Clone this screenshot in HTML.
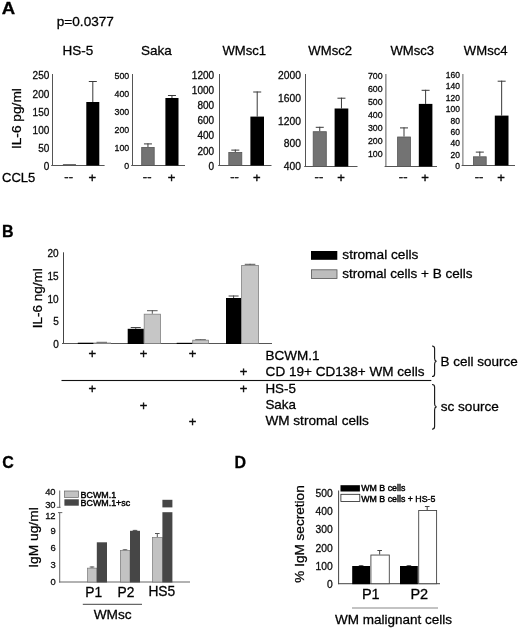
<!DOCTYPE html>
<html><head><meta charset="utf-8"><title>Figure</title>
<style>
html,body{margin:0;padding:0;background:#fff;}
svg{display:block;font-family:"Liberation Sans", Arial, sans-serif;will-change:transform;}
text{stroke:#000;stroke-width:0.28px;}
text.sg{stroke-width:0.4px;}
text.lg{stroke-width:0.42px;}
</style></head>
<body>
<svg width="520" height="630" viewBox="0 0 520 630">
<rect width="520" height="630" fill="#fff"/>
<text transform="translate(1.8 13.7) scale(1.16 1.03)" font-size="16" font-weight="bold" fill="#000">A</text>
<text x="56.8" y="26.2" font-size="13.6" text-anchor="start" font-weight="normal" fill="#000">p=0.0377</text>
<text x="2" y="181.5" font-size="13" text-anchor="start" font-weight="normal" fill="#000">CCL5</text>
<text transform="translate(20.8 118.6) rotate(-90) scale(1 0.95)" font-size="13.7" text-anchor="middle" font-weight="normal" fill="#000">IL-6 pg/ml</text>
<text x="78" y="54.6" font-size="13.5" text-anchor="middle" font-weight="normal" fill="#000">HS-5</text>
<rect x="52" y="74" width="1" height="92" fill="#555"/>
<rect x="51.2" y="165" width="53.4" height="1" fill="#555"/>
<text x="49.3" y="169.9" font-size="10" text-anchor="end" font-weight="normal" fill="#111">0</text>
<text x="49.3" y="151.8" font-size="10" text-anchor="end" font-weight="normal" fill="#111">50</text>
<text x="49.3" y="133.7" font-size="10" text-anchor="end" font-weight="normal" fill="#111">100</text>
<text x="49.3" y="115.6" font-size="10" text-anchor="end" font-weight="normal" fill="#111">150</text>
<text x="49.3" y="97.5" font-size="10" text-anchor="end" font-weight="normal" fill="#111">200</text>
<text x="49.3" y="79.4" font-size="10" text-anchor="end" font-weight="normal" fill="#111">250</text>
<rect x="63.3" y="164.6" width="12.3" height="0.9" fill="#737373" stroke="#555" stroke-width="0.8"/>
<rect x="92.3" y="81" width="1" height="21" fill="#3a3a3a"/>
<rect x="88.8" y="81" width="8" height="1" fill="#3a3a3a"/>
<rect x="86.3" y="102" width="13" height="63.5" fill="#000"/>
<text class="sg" x="68.65" y="181.1" font-size="13" text-anchor="middle" font-weight="normal" fill="#222">--</text>
<text class="sg" x="92.3" y="182.4" font-size="13" text-anchor="middle" font-weight="normal" fill="#111">+</text>
<text x="156.5" y="54.6" font-size="13.5" text-anchor="middle" font-weight="normal" fill="#000">Saka</text>
<rect x="132" y="74" width="1" height="92" fill="#555"/>
<rect x="131.2" y="165" width="53.8" height="1" fill="#555"/>
<text x="129.2" y="169.27" font-size="8.8" text-anchor="end" font-weight="normal" fill="#111">0</text>
<text x="129.2" y="151.13" font-size="8.8" text-anchor="end" font-weight="normal" fill="#111">100</text>
<text x="129.2" y="132.99" font-size="8.8" text-anchor="end" font-weight="normal" fill="#111">200</text>
<text x="129.2" y="114.85" font-size="8.8" text-anchor="end" font-weight="normal" fill="#111">300</text>
<text x="129.2" y="96.71" font-size="8.8" text-anchor="end" font-weight="normal" fill="#111">400</text>
<text x="129.2" y="78.57" font-size="8.8" text-anchor="end" font-weight="normal" fill="#111">500</text>
<rect x="147.45" y="143.4" width="1" height="3.6" fill="#3a3a3a"/>
<rect x="143.95" y="143.4" width="8" height="1" fill="#3a3a3a"/>
<rect x="141.7" y="147.4" width="12.5" height="18.1" fill="#737373" stroke="#555" stroke-width="0.8"/>
<rect x="171.45" y="95" width="1" height="3" fill="#3a3a3a"/>
<rect x="167.95" y="95" width="8" height="1" fill="#3a3a3a"/>
<rect x="165.4" y="98" width="13.1" height="67.5" fill="#000"/>
<text class="sg" x="147.15" y="181.1" font-size="13" text-anchor="middle" font-weight="normal" fill="#222">--</text>
<text class="sg" x="171.45" y="182.4" font-size="13" text-anchor="middle" font-weight="normal" fill="#111">+</text>
<text x="244.3" y="54.6" font-size="13.1" text-anchor="middle" font-weight="normal" fill="#000">WMsc1</text>
<rect x="219" y="74" width="1" height="92" fill="#555"/>
<rect x="218.2" y="165" width="53.3" height="1" fill="#555"/>
<text x="214.1" y="169.7" font-size="10" text-anchor="end" font-weight="normal" fill="#111">0</text>
<text x="214.1" y="154.58" font-size="10" text-anchor="end" font-weight="normal" fill="#111">200</text>
<text x="214.1" y="139.47" font-size="10" text-anchor="end" font-weight="normal" fill="#111">400</text>
<text x="214.1" y="124.35" font-size="10" text-anchor="end" font-weight="normal" fill="#111">600</text>
<text x="214.1" y="109.23" font-size="10" text-anchor="end" font-weight="normal" fill="#111">800</text>
<text x="214.1" y="94.12" font-size="10" text-anchor="end" font-weight="normal" fill="#111">1000</text>
<text x="214.1" y="79" font-size="10" text-anchor="end" font-weight="normal" fill="#111">1200</text>
<rect x="234.8" y="149.6" width="1" height="2.4" fill="#3a3a3a"/>
<rect x="231.3" y="149.6" width="8" height="1" fill="#3a3a3a"/>
<rect x="228.8" y="152.4" width="13" height="13.1" fill="#737373" stroke="#555" stroke-width="0.8"/>
<rect x="256.7" y="91.5" width="1" height="25.1" fill="#3a3a3a"/>
<rect x="253.2" y="91.5" width="8" height="1" fill="#3a3a3a"/>
<rect x="250.4" y="116.6" width="13.6" height="48.9" fill="#000"/>
<text class="sg" x="234.5" y="181.1" font-size="13" text-anchor="middle" font-weight="normal" fill="#222">--</text>
<text class="sg" x="256.7" y="182.4" font-size="13" text-anchor="middle" font-weight="normal" fill="#111">+</text>
<text x="330.2" y="54.6" font-size="13.1" text-anchor="middle" font-weight="normal" fill="#000">WMsc2</text>
<rect x="305" y="74" width="1" height="93" fill="#555"/>
<rect x="304.2" y="166" width="53.3" height="1" fill="#555"/>
<text x="300.9" y="170.01" font-size="10.3" text-anchor="end" font-weight="normal" fill="#111">400</text>
<text x="300.9" y="147.28" font-size="10.3" text-anchor="end" font-weight="normal" fill="#111">800</text>
<text x="300.9" y="124.56" font-size="10.3" text-anchor="end" font-weight="normal" fill="#111">1200</text>
<text x="300.9" y="101.83" font-size="10.3" text-anchor="end" font-weight="normal" fill="#111">1600</text>
<text x="300.9" y="79.11" font-size="10.3" text-anchor="end" font-weight="normal" fill="#111">2000</text>
<rect x="319.25" y="126.8" width="1" height="4.5" fill="#3a3a3a"/>
<rect x="315.75" y="126.8" width="8" height="1" fill="#3a3a3a"/>
<rect x="313.2" y="131.7" width="13.1" height="34.8" fill="#737373" stroke="#555" stroke-width="0.8"/>
<rect x="340.95" y="97.7" width="1" height="10.8" fill="#3a3a3a"/>
<rect x="337.45" y="97.7" width="8" height="1" fill="#3a3a3a"/>
<rect x="334.6" y="108.5" width="13.7" height="58" fill="#000"/>
<text class="sg" x="318.95" y="181.1" font-size="13" text-anchor="middle" font-weight="normal" fill="#222">--</text>
<text class="sg" x="340.95" y="182.4" font-size="13" text-anchor="middle" font-weight="normal" fill="#111">+</text>
<text x="412.3" y="54.6" font-size="13.1" text-anchor="middle" font-weight="normal" fill="#000">WMsc3</text>
<rect x="385.4" y="74" width="1" height="93" fill="#5a5a5a"/>
<rect x="384.6" y="166" width="52.4" height="1" fill="#555"/>
<text x="382.6" y="157.1" font-size="8.8" text-anchor="end" font-weight="normal" fill="#111">100</text>
<text x="382.6" y="144.03" font-size="8.8" text-anchor="end" font-weight="normal" fill="#111">200</text>
<text x="382.6" y="130.95" font-size="8.8" text-anchor="end" font-weight="normal" fill="#111">300</text>
<text x="382.6" y="117.88" font-size="8.8" text-anchor="end" font-weight="normal" fill="#111">400</text>
<text x="382.6" y="104.81" font-size="8.8" text-anchor="end" font-weight="normal" fill="#111">500</text>
<text x="382.6" y="91.74" font-size="8.8" text-anchor="end" font-weight="normal" fill="#111">600</text>
<text x="382.6" y="78.67" font-size="8.8" text-anchor="end" font-weight="normal" fill="#111">700</text>
<rect x="403.5" y="127.4" width="1" height="9.2" fill="#3a3a3a"/>
<rect x="400" y="127.4" width="8" height="1" fill="#3a3a3a"/>
<rect x="397.6" y="137" width="12.8" height="29.5" fill="#737373" stroke="#555" stroke-width="0.8"/>
<rect x="425.1" y="89.8" width="1" height="14.1" fill="#3a3a3a"/>
<rect x="421.6" y="89.8" width="8" height="1" fill="#3a3a3a"/>
<rect x="418.8" y="103.9" width="13.6" height="62.6" fill="#000"/>
<text class="sg" x="403.2" y="181.1" font-size="13" text-anchor="middle" font-weight="normal" fill="#222">--</text>
<text class="sg" x="425.1" y="182.4" font-size="13" text-anchor="middle" font-weight="normal" fill="#111">+</text>
<text x="485.7" y="54.6" font-size="13.1" text-anchor="middle" font-weight="normal" fill="#000">WMsc4</text>
<rect x="462.4" y="74" width="1" height="92" fill="#666"/>
<rect x="461.6" y="165" width="53.4" height="1" fill="#555"/>
<text x="459.9" y="169.16" font-size="8.5" text-anchor="end" font-weight="normal" fill="#111">0</text>
<text x="459.9" y="157.77" font-size="8.5" text-anchor="end" font-weight="normal" fill="#111">20</text>
<text x="459.9" y="146.38" font-size="8.5" text-anchor="end" font-weight="normal" fill="#111">40</text>
<text x="459.9" y="135" font-size="8.5" text-anchor="end" font-weight="normal" fill="#111">60</text>
<text x="459.9" y="123.61" font-size="8.5" text-anchor="end" font-weight="normal" fill="#111">80</text>
<text x="459.9" y="112.22" font-size="8.5" text-anchor="end" font-weight="normal" fill="#111">100</text>
<text x="459.9" y="100.84" font-size="8.5" text-anchor="end" font-weight="normal" fill="#111">120</text>
<text x="459.9" y="89.45" font-size="8.5" text-anchor="end" font-weight="normal" fill="#111">140</text>
<text x="459.9" y="78.06" font-size="8.5" text-anchor="end" font-weight="normal" fill="#111">160</text>
<rect x="479.3" y="151.6" width="1" height="4.8" fill="#3a3a3a"/>
<rect x="475.8" y="151.6" width="8" height="1" fill="#3a3a3a"/>
<rect x="473.4" y="156.8" width="12.8" height="8.7" fill="#737373" stroke="#555" stroke-width="0.8"/>
<rect x="501.15" y="80.7" width="1" height="34.9" fill="#3a3a3a"/>
<rect x="497.65" y="80.7" width="8" height="1" fill="#3a3a3a"/>
<rect x="494.8" y="115.6" width="13.7" height="49.9" fill="#000"/>
<text class="sg" x="479" y="181.1" font-size="13" text-anchor="middle" font-weight="normal" fill="#222">--</text>
<text class="sg" x="501.15" y="182.4" font-size="13" text-anchor="middle" font-weight="normal" fill="#111">+</text>
<text x="2" y="236.7" font-size="16" text-anchor="start" font-weight="bold" fill="#000">B</text>
<text transform="translate(42.3 298.3) rotate(-90)" font-size="13.5" text-anchor="middle" font-weight="normal" fill="#000">IL-6 ng/ml</text>
<rect x="63" y="252.3" width="1" height="91.7" fill="#444"/>
<rect x="62" y="343" width="210" height="1" fill="#555"/>
<text x="58.7" y="347.8" font-size="10" text-anchor="end" font-weight="normal" fill="#111">0</text>
<text x="58.7" y="325.15" font-size="10" text-anchor="end" font-weight="normal" fill="#111">5</text>
<text x="58.7" y="302.5" font-size="10" text-anchor="end" font-weight="normal" fill="#111">10</text>
<text x="58.7" y="279.85" font-size="10" text-anchor="end" font-weight="normal" fill="#111">15</text>
<text x="58.7" y="257.2" font-size="10" text-anchor="end" font-weight="normal" fill="#111">20</text>
<rect x="77.8" y="342.7" width="15.7" height="1.3" fill="#000"/>
<rect x="93.9" y="343" width="16.7" height="0.5" fill="#c6c6c6" stroke="#808080" stroke-width="0.8"/>
<rect x="96.5" y="341.8" width="10.5" height="1" fill="#666"/>
<rect x="135.25" y="327" width="1" height="1.8" fill="#444"/>
<rect x="130.75" y="327" width="10" height="1" fill="#444"/>
<rect x="151.8" y="310.2" width="1" height="3.6" fill="#555"/>
<rect x="147" y="310.2" width="10.6" height="1" fill="#555"/>
<rect x="127.7" y="328.8" width="16.1" height="15.2" fill="#000"/>
<rect x="144.2" y="314.2" width="16.2" height="29.3" fill="#c6c6c6" stroke="#808080" stroke-width="0.8"/>
<rect x="200.05" y="339.2" width="1" height="0.6" fill="#555"/>
<rect x="195.25" y="339.2" width="10.6" height="1" fill="#555"/>
<rect x="176.7" y="342.8" width="15.6" height="1.2" fill="#000"/>
<rect x="192.7" y="340.2" width="15.7" height="3.3" fill="#c6c6c6" stroke="#808080" stroke-width="0.8"/>
<rect x="233.1" y="295.5" width="1" height="2.5" fill="#444"/>
<rect x="228.6" y="295.5" width="10" height="1" fill="#444"/>
<rect x="249.55" y="263.8" width="1" height="1.2" fill="#555"/>
<rect x="244.75" y="263.8" width="10.6" height="1" fill="#555"/>
<rect x="226" y="298" width="15.2" height="46" fill="#000"/>
<rect x="241.6" y="265.4" width="16.9" height="78.1" fill="#c6c6c6" stroke="#808080" stroke-width="0.8"/>
<text class="sg" x="92.3" y="358.2" font-size="13" text-anchor="middle" font-weight="normal" fill="#111">+</text>
<text class="sg" x="143.5" y="358.2" font-size="13" text-anchor="middle" font-weight="normal" fill="#111">+</text>
<text class="sg" x="192.5" y="358.2" font-size="13" text-anchor="middle" font-weight="normal" fill="#111">+</text>
<text class="sg" x="243.5" y="375.9" font-size="13" text-anchor="middle" font-weight="normal" fill="#111">+</text>
<rect x="61.5" y="379.95" width="369.8" height="1.1" fill="#111"/>
<text class="sg" x="92.3" y="392.9" font-size="13" text-anchor="middle" font-weight="normal" fill="#111">+</text>
<text class="sg" x="243.5" y="392.9" font-size="13" text-anchor="middle" font-weight="normal" fill="#111">+</text>
<text class="sg" x="143.5" y="409.8" font-size="13" text-anchor="middle" font-weight="normal" fill="#111">+</text>
<text class="sg" x="192.5" y="426.2" font-size="13" text-anchor="middle" font-weight="normal" fill="#111">+</text>
<rect x="311" y="251" width="26.3" height="8.8" fill="#000"/>
<rect x="311.4" y="269.8" width="25.6" height="8.8" fill="#bdbdbd" stroke="#555" stroke-width="0.8"/>
<text x="342.3" y="259.3" font-size="13.7" text-anchor="start" font-weight="normal" fill="#000">stromal cells</text>
<text x="342.3" y="278" font-size="13.5" text-anchor="start" font-weight="normal" fill="#000">stromal cells + B cells</text>
<text x="265.4" y="359.8" font-size="13.5" text-anchor="start" font-weight="normal" fill="#000">BCWM.1</text>
<text x="265.6" y="376.4" font-size="13.55" text-anchor="start" font-weight="normal" fill="#000">CD 19+ CD138+ WM cells</text>
<text x="265.4" y="393.2" font-size="13.4" text-anchor="start" font-weight="normal" fill="#000">HS-5</text>
<text x="265.4" y="409.2" font-size="13.4" text-anchor="start" font-weight="normal" fill="#000">Saka</text>
<text x="265.4" y="425.4" font-size="13.6" text-anchor="start" font-weight="normal" fill="#000">WM stromal cells</text>
<path d="M432 346 Q434.6 346 434.6 348.6 L434.6 358.45 Q434.6 360.85 436.5 361.25 Q434.6 361.65 434.6 364.05 L434.6 373.9 Q434.6 376.5 432 376.5" fill="none" stroke="#1a1a1a" stroke-width="1.15"/>
<path d="M432 384.5 Q434.6 384.5 434.6 387.1 L434.6 404.05 Q434.6 406.45 436.5 406.85 Q434.6 407.25 434.6 409.65 L434.6 426.6 Q434.6 429.2 432 429.2" fill="none" stroke="#1a1a1a" stroke-width="1.15"/>
<text x="440.4" y="366" font-size="13.5" text-anchor="start" font-weight="normal" fill="#000">B cell source</text>
<text x="440.7" y="411.3" font-size="13.6" text-anchor="start" font-weight="normal" fill="#000">sc source</text>
<text x="2.3" y="467.5" font-size="16" text-anchor="start" font-weight="bold" fill="#000">C</text>
<text transform="translate(38.3 537.5) rotate(-90) scale(1 0.9)" font-size="13.8" text-anchor="middle" font-weight="normal" fill="#000">IgM ug/ml</text>
<rect x="59.2" y="490.5" width="1" height="17.3" fill="#666"/>
<rect x="59.2" y="512.2" width="1" height="70.3" fill="#666"/>
<rect x="56.8" y="506.8" width="3.7" height="1" fill="#666"/>
<rect x="58" y="512.1" width="4.3" height="1" fill="#666"/>
<rect x="59" y="581.5" width="131" height="1" fill="#666"/>
<text x="55.6" y="494.8" font-size="9.4" text-anchor="end" font-weight="normal" fill="#111">40</text>
<text x="55.6" y="508.3" font-size="9.4" text-anchor="end" font-weight="normal" fill="#111">30</text>
<text x="55.6" y="518.5" font-size="9.4" text-anchor="end" font-weight="normal" fill="#111">12</text>
<text x="55.6" y="533.8" font-size="9.4" text-anchor="end" font-weight="normal" fill="#111">9</text>
<text x="55.6" y="550.5" font-size="9.4" text-anchor="end" font-weight="normal" fill="#111">6</text>
<text x="55.6" y="568.1" font-size="9.4" text-anchor="end" font-weight="normal" fill="#111">3</text>
<text x="55.6" y="584.6" font-size="9.4" text-anchor="end" font-weight="normal" fill="#111">0</text>
<rect x="64.6" y="491" width="14" height="6.5" fill="#c2c2c2" stroke="#666" stroke-width="0.7"/>
<rect x="64.4" y="499.3" width="14.4" height="6.4" fill="#464646"/>
<text class="lg" x="80.6" y="497.6" font-size="8.9" text-anchor="start" font-weight="normal" fill="#000">BCWM.1</text>
<text class="lg" x="80.6" y="505.7" font-size="8.9" text-anchor="start" font-weight="normal" fill="#000">BCWM.1+sc</text>
<rect x="91.5" y="566.5" width="1" height="1.3" fill="#555"/>
<rect x="89.7" y="566.5" width="4.6" height="1" fill="#555"/>
<rect x="87.55" y="568.15" width="9.25" height="13.85" fill="#c2c2c2" stroke="#777" stroke-width="0.7"/>
<rect x="96.8" y="542.3" width="10.2" height="40.2" fill="#464646"/>
<rect x="124.5" y="549.3" width="1" height="0.9" fill="#555"/>
<rect x="122.7" y="549.3" width="4.6" height="1" fill="#555"/>
<rect x="134.5" y="529.9" width="1" height="0.9" fill="#555"/>
<rect x="132.7" y="529.9" width="4.6" height="1" fill="#555"/>
<rect x="120.35" y="550.55" width="9.65" height="31.45" fill="#c2c2c2" stroke="#777" stroke-width="0.7"/>
<rect x="130" y="530.8" width="10" height="51.7" fill="#464646"/>
<rect x="156.8" y="533" width="1" height="4.2" fill="#555"/>
<rect x="155" y="533" width="4.6" height="1" fill="#555"/>
<rect x="152.55" y="537.55" width="9.85" height="44.45" fill="#c2c2c2" stroke="#777" stroke-width="0.7"/>
<rect x="162.4" y="499.8" width="10" height="82.7" fill="#464646"/>
<rect x="161.5" y="507.4" width="12" height="4.8" fill="#fff"/>
<text x="93.8" y="596.5" font-size="13.8" text-anchor="middle" font-weight="normal" fill="#000">P1</text>
<text x="126" y="596.5" font-size="13.8" text-anchor="middle" font-weight="normal" fill="#000">P2</text>
<text x="161.8" y="596.3" font-size="13.8" text-anchor="middle" font-weight="normal" fill="#000">HS5</text>
<rect x="82.8" y="603.8" width="59.2" height="1" fill="#444"/>
<text x="112.7" y="618.6" font-size="13.7" text-anchor="middle" font-weight="normal" fill="#000">WMsc</text>
<text x="234.6" y="467.8" font-size="16" text-anchor="start" font-weight="bold" fill="#000">D</text>
<text transform="translate(304.3 534) rotate(-90)" font-size="13.6" text-anchor="middle" font-weight="normal" fill="#000">% IgM secretion</text>
<rect x="338.1" y="490.5" width="1" height="93.7" fill="#444"/>
<rect x="338" y="583.2" width="102" height="1" fill="#444"/>
<text x="332.8" y="588" font-size="10.3" text-anchor="end" font-weight="normal" fill="#111">0</text>
<text x="332.8" y="569.8" font-size="10.3" text-anchor="end" font-weight="normal" fill="#111">100</text>
<text x="332.8" y="551.6" font-size="10.3" text-anchor="end" font-weight="normal" fill="#111">200</text>
<text x="332.8" y="533.4" font-size="10.3" text-anchor="end" font-weight="normal" fill="#111">300</text>
<text x="332.8" y="515.2" font-size="10.3" text-anchor="end" font-weight="normal" fill="#111">400</text>
<text x="332.8" y="497" font-size="10.3" text-anchor="end" font-weight="normal" fill="#111">500</text>
<rect x="340.5" y="485.2" width="19.4" height="6.3" fill="#000"/>
<rect x="340.9" y="494.3" width="18.9" height="7.3" fill="#fff" stroke="#222" stroke-width="0.8"/>
<text class="lg" x="361.3" y="491.2" font-size="8.8" text-anchor="start" font-weight="normal" fill="#000">WM B cells</text>
<text class="lg" x="361.3" y="501.8" font-size="8.8" text-anchor="start" font-weight="normal" fill="#000">WM B cells + HS-5</text>
<rect x="360.6" y="565.2" width="1" height="0.8" fill="#444"/>
<rect x="358.8" y="565.2" width="4.6" height="1" fill="#444"/>
<rect x="379.15" y="550" width="1" height="4.6" fill="#444"/>
<rect x="377.35" y="550" width="4.6" height="1" fill="#444"/>
<rect x="352.2" y="566" width="17.8" height="18.2" fill="#000"/>
<rect x="370.9" y="555.05" width="18.4" height="28.65" fill="#fff" stroke="#444" stroke-width="0.9"/>
<rect x="408.4" y="565.2" width="1" height="0.8" fill="#444"/>
<rect x="406.6" y="565.2" width="4.6" height="1" fill="#444"/>
<rect x="426.7" y="506" width="1" height="4.1" fill="#444"/>
<rect x="424.9" y="506" width="4.6" height="1" fill="#444"/>
<rect x="400" y="566" width="17.8" height="18.2" fill="#000"/>
<rect x="418.7" y="510.55" width="17.9" height="73.15" fill="#fff" stroke="#444" stroke-width="0.9"/>
<text x="370.8" y="599" font-size="14.5" text-anchor="middle" font-weight="normal" fill="#000">P1</text>
<text x="419.3" y="599" font-size="14.5" text-anchor="middle" font-weight="normal" fill="#000">P2</text>
<rect x="352" y="607.5" width="86" height="1" fill="#888"/>
<text x="393.5" y="623.7" font-size="13.5" text-anchor="middle" font-weight="normal" fill="#000">WM malignant cells</text>
</svg>
</body></html>
